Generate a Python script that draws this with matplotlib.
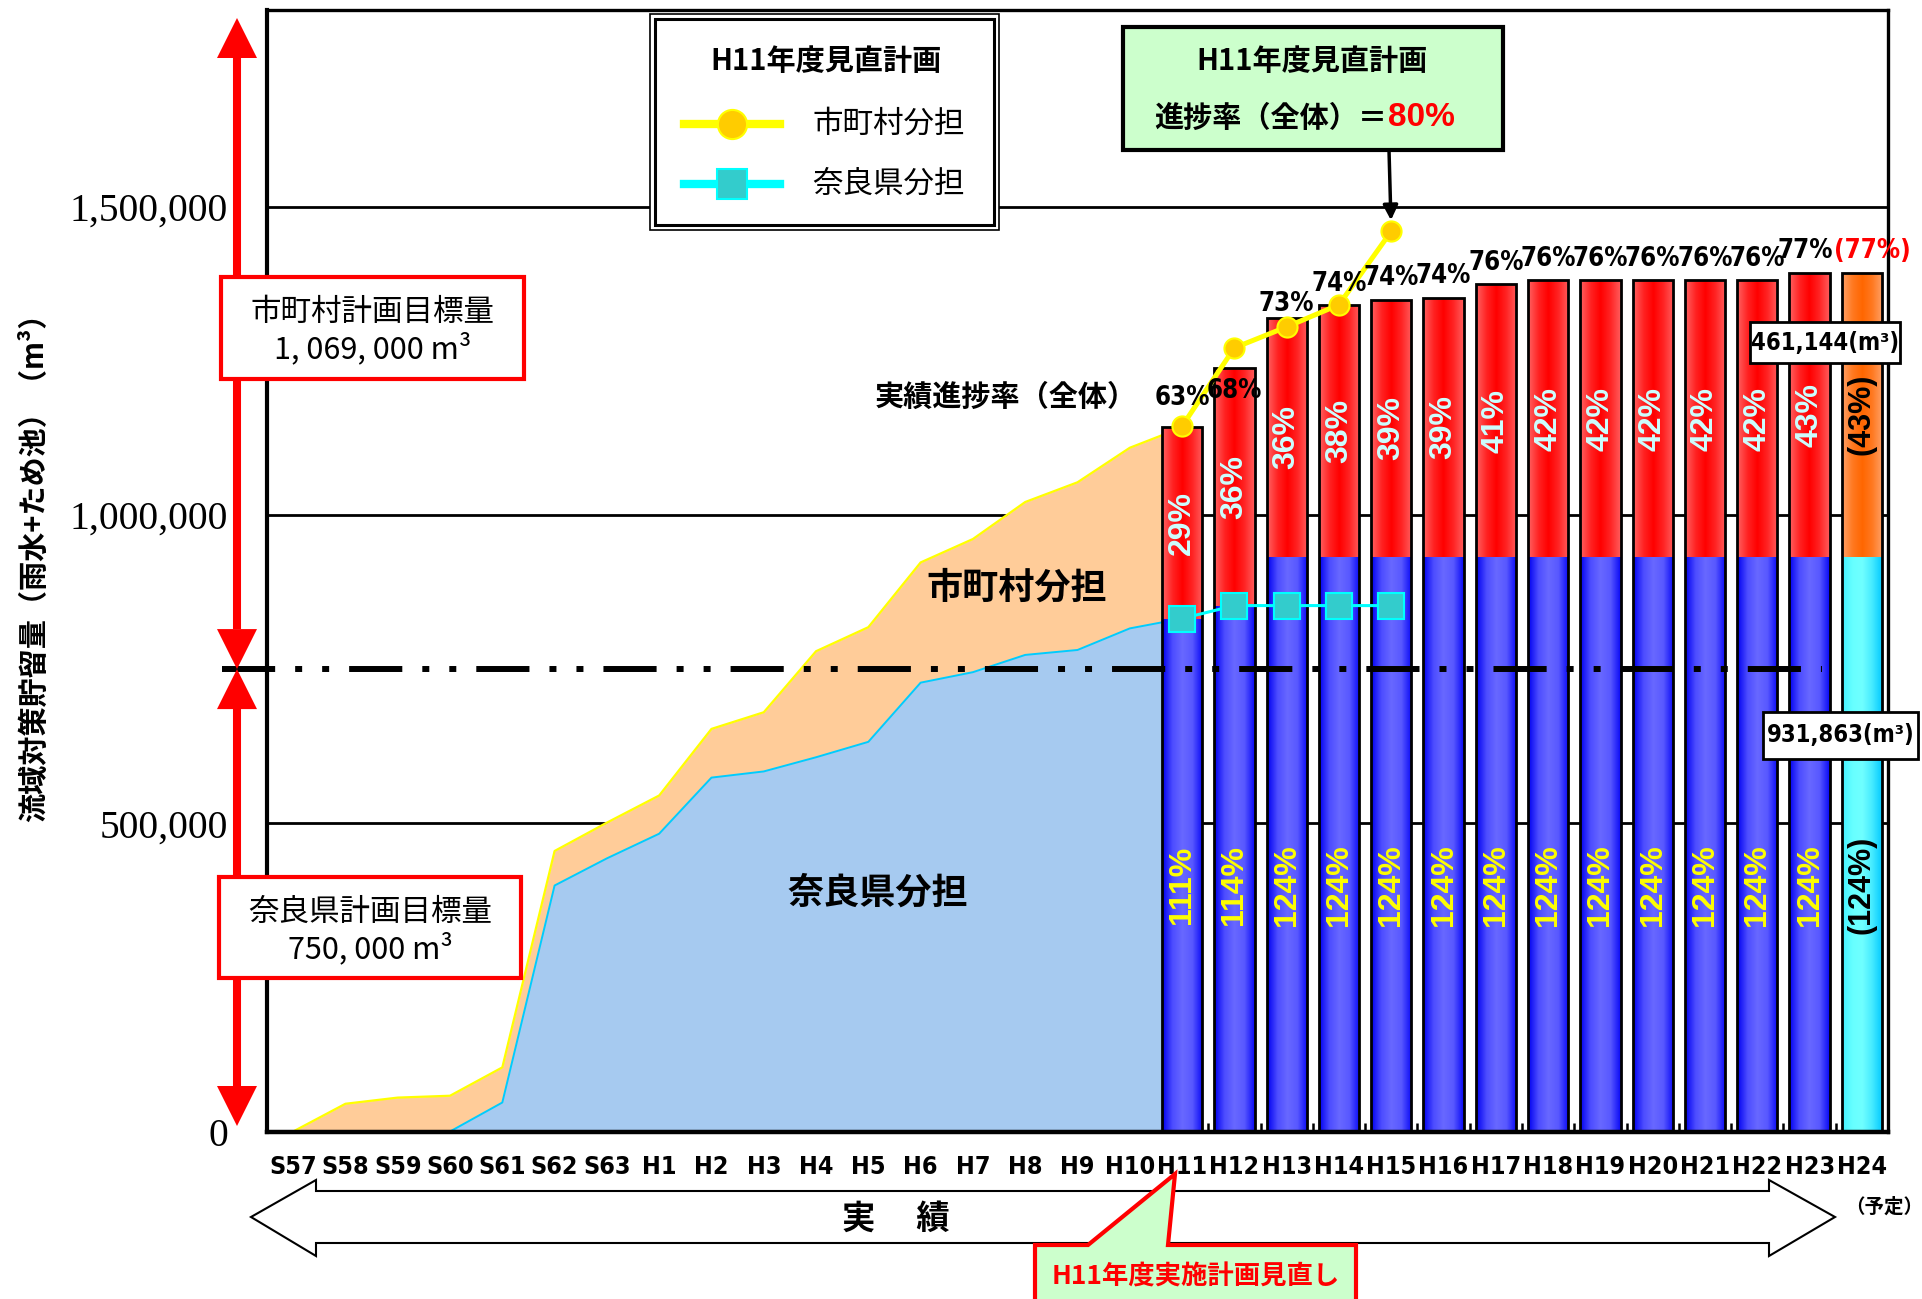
import numpy as np
import matplotlib
matplotlib.use("Agg")
import matplotlib.pyplot as plt
from matplotlib import font_manager
from matplotlib.colors import LinearSegmentedColormap
from matplotlib.patches import Rectangle, Polygon
from matplotlib.lines import Line2D

# --- data (m3) ------------------------------------------------------------
YEARS = ["S57", "S58", "S59", "S60", "S61", "S62", "S63",
         "H1", "H2", "H3", "H4", "H5", "H6", "H7", "H8", "H9", "H10",
         "H11", "H12", "H13", "H14", "H15", "H16", "H17", "H18", "H19",
         "H20", "H21", "H22", "H23", "H24"]

# actual cumulative storage S57..H11 (area chart)
ACT_TOTAL = [0, 45000, 55000, 58000, 104000, 455000, 501000, 545000, 653000,
             680000, 779000, 818000, 923000, 961000, 1021000, 1053000,
             1109000, 1142000]
ACT_PREF = [0, 0, 0, 0, 47000, 399000, 443000, 483000, 574000, 584000,
            607000, 632000, 728000, 745000, 773000, 781000, 816000, 832000]

# stacked bars H11..H24
BAR_YEARS = ["H11", "H12", "H13", "H14", "H15", "H16", "H17", "H18", "H19",
             "H20", "H21", "H22", "H23", "H24"]
BAR_PREF = [832000, 853000, 931863, 931863, 931863, 931863, 931863, 931863,
            931863, 931863, 931863, 931863, 931863, 931863]
BAR_MUNI = [310000, 385000, 388000, 408000, 417000, 420000, 442000, 449000,
            449000, 449000, 449000, 449000, 461000, 461144]

# H11 revised plan
PLAN_YEARS = ["H11", "H12", "H13", "H14", "H15"]
PLAN_TOTAL = [1144000, 1271000, 1305000, 1341000, 1460000]
PLAN_PREF = [832000, 853000, 853000, 853000, 853000]

TARGET_PREF = 750000
TARGET_MUNI = 1069000
YTICKS = [0, 500000, 1000000, 1500000]

# --- fonts ---------------------------------------------------------------
plt.rcParams["font.family"] = ["Noto Sans CJK JP", "DejaVu Sans"]
_names = {f.name for f in font_manager.fontManager.ttflist}
if "Liberation Sans Narrow" in _names:
    NARROW = dict(family=["Liberation Sans Narrow", "Noto Sans CJK JP"], weight="bold")
else:
    NARROW = dict(family=["DejaVu Sans", "Noto Sans CJK JP"], stretch="condensed", weight="bold")
JPB = dict(family=["Noto Sans CJK JP", "DejaVu Sans"], weight="bold")
JP = dict(family=["Noto Sans CJK JP", "DejaVu Sans"])
ARIALB = dict(family=["Liberation Sans", "Noto Sans CJK JP"], weight="bold")

W, H = 1922, 1299


def F(x, y):
    """pixel (from top-left) -> figure fraction"""
    return (x / W, 1 - y / H)


def grad(colors):
    return LinearSegmentedColormap.from_list("g", colors)


CM_BLUE = grad(["#0000F0", "#4C4CFF", "#6868FF", "#5858FF", "#0A0AF5"])
CM_RED = grad(["#FF6262", "#FF2424", "#FF0000", "#FF2424", "#FF5C5C"])
CM_ORANGE = grad(["#FFA066", "#FF7A22", "#FF6600", "#FF7A22", "#FFA066"])
CM_CYAN = grad(["#44F2FF", "#66FFFF", "#70FFFF", "#44EAFF", "#00C8FF"])

fig = plt.figure(figsize=(W / 100, H / 100), dpi=100)
ax = fig.add_axes([267 / W, 1 - 1131.5 / H, (1888 - 267) / W, (1131.5 - 10) / H])
xi = {y: i for i, y in enumerate(YEARS)}

# --- area (actual) -------------------------------------------------------
xa = np.arange(len(ACT_TOTAL))
ax.fill_between(xa, ACT_TOTAL, color="#FFCC99", lw=0, zorder=1.2)
ax.fill_between(xa, ACT_PREF, color="#A6CAF0", lw=0, zorder=1.3)
ax.plot(xa, ACT_TOTAL, color="#FFFF00", lw=1.6, zorder=1.4)
ax.plot(xa, ACT_PREF, color="#00CCFF", lw=1.4, zorder=1.4)

# --- stacked bars ----------------------------------------------------------
xb = np.array([xi[y] for y in BAR_YEARS])
pref = np.array(BAR_PREF)
muni = np.array(BAR_MUNI)
total = pref + muni
bw = 0.77
g = np.linspace(0, 1, 64).reshape(1, -1)

pbars = ax.bar(xb, pref, width=bw, color="none", lw=0, zorder=2)
mbars = ax.bar(xb, muni, bottom=pref, width=bw, color="none", lw=0, zorder=2)
last = len(xb) - 1
for k, (pb, mb) in enumerate(zip(pbars, mbars)):
    for patch, cm in ((pb, CM_CYAN if k == last else CM_BLUE),
                      (mb, CM_ORANGE if k == last else CM_RED)):
        x0, y0 = patch.get_x(), patch.get_y()
        im = ax.imshow(g, cmap=cm, aspect="auto", zorder=2.1,
                       extent=[x0, x0 + patch.get_width(), y0, y0 + patch.get_height()])
        im.set_clip_path(patch)
ax.bar(xb, total, width=bw, fill=False, edgecolor="black", lw=2, zorder=3)

# labels inside bars
for k, x in enumerate(xb):
    mp = int(muni[k] / TARGET_MUNI * 100 + 0.5)
    pp = int(pref[k] / TARGET_PREF * 100 + 0.5)
    if k == last:
        ax.text(x, pref[k] + muni[k] / 2, f"({mp}%)", rotation=90, ha="center",
                va="center", color="black", fontsize=22, zorder=6, **ARIALB)
        ax.text(x, 400000, f"({pp}%)", rotation=90, ha="center", va="center",
                color="black", fontsize=22, zorder=6, **ARIALB)
    else:
        ax.text(x, pref[k] + muni[k] / 2, f"{mp}%", rotation=90, ha="center",
                va="center", color="#CCFFFF", fontsize=23, zorder=6, **ARIALB)
        ax.text(x, 400000, f"{pp}%", rotation=90, ha="center", va="center",
                color="#FFFF00", fontsize=23, zorder=6, **ARIALB)

# overall progress labels above bars
dy = {"H11": 48000, "H12": -37000, "H13": 22000}
dx = {"H23": -0.08, "H24": 0.2}
for k, (x, yr) in enumerate(zip(xb, BAR_YEARS)):
    tp = int(total[k] / (TARGET_PREF + TARGET_MUNI) * 100 + 0.5)
    txt = f"({tp}%)" if k == last else f"{tp}%"
    ax.text(x + dx.get(yr, 0), total[k] + dy.get(yr, 35000), txt,
            ha="center", va="center", color="red" if k == last else "black",
            fontsize=18.5, zorder=6, clip_on=False, **NARROW)

# --- plan lines ------------------------------------------------------------
xp = [xi[y] for y in PLAN_YEARS]
ax.plot(xp, PLAN_TOTAL, color="#FFFF00", lw=3.6, marker="o", ms=14.5,
        mfc="#FFCC00", mec="#FFFF00", mew=1.5, zorder=5)
ax.plot(xp, PLAN_PREF, color="#00FFFF", lw=2.2, marker="s", ms=18.5,
        mfc="#33CCCC", mec="#00FFFF", mew=1.5, zorder=5)

# target line (750,000)
ax.plot([-0.028, 0.959], [TARGET_PREF, TARGET_PREF], transform=ax.get_yaxis_transform(),
        color="black", lw=4.3, dashes=(8.9, 3.35, 1.17, 3.35, 1.17, 3.35),
        clip_on=False, zorder=4)

# --- axes styling ------------------------------------------------------------
ax.set_xlim(-0.5, len(YEARS) - 0.5)
ax.set_ylim(0, TARGET_PREF + TARGET_MUNI)
ax.set_axisbelow(True)
ax.yaxis.grid(True, color="black", lw=2)
for s, lw in (("left", 3), ("bottom", 3.2), ("top", 2.4), ("right", 2.4)):
    ax.spines[s].set_linewidth(lw)
ax.set_yticks(YTICKS, [f"{v:,}" for v in YTICKS])
ax.tick_params(axis="y", length=0, pad=28, labelsize=28.5)
for lab in ax.get_yticklabels():
    lab.set_fontfamily("Liberation Serif")
ax.set_xticks(range(len(YEARS)), YEARS)
ax.set_xticks(np.arange(0.5, len(YEARS) - 1), minor=True)
ax.tick_params(axis="x", which="major", length=0, pad=17)
ax.tick_params(axis="x", which="minor", direction="in", length=6.5, width=1.8)
for lab in ax.get_xticklabels():
    lab.set_fontproperties(font_manager.FontProperties(size=18, **NARROW))

# --- legend (manual, double frame) ------------------------------------------
fig.add_artist(Rectangle(F(650, 230), 349 / W, 216 / H, transform=fig.transFigure,
                         fc="white", ec="black", lw=1.2, zorder=3))
fig.add_artist(Rectangle(F(655, 225), 339 / W, 206 / H, transform=fig.transFigure,
                         fc="white", ec="black", lw=2.2, zorder=3))
fig.text(*F(826, 61), "H11年度見直計画", ha="center", va="center", fontsize=21,
         zorder=4, **JPB)
for yy, lc, mk, mfc, ms, txt in ((124, "#FFFF00", "o", "#FFCC00", 21, "市町村分担"),
                                  (184, "#00FFFF", "s", "#33CCCC", 22, "奈良県分担")):
    fig.add_artist(Line2D([684 / W, 780 / W], [1 - yy / H] * 2, transform=fig.transFigure,
                          color=lc, lw=6, zorder=4))
    fig.add_artist(Line2D([732 / W], [1 - yy / H], transform=fig.transFigure, marker=mk,
                          ms=ms, mfc=mfc, mec=lc, mew=1.5, lw=0, zorder=5))
    fig.text(*F(812, yy), txt, ha="left", va="center", fontsize=22, zorder=4, **JP)

# --- green plan box -----------------------------------------------------------
fig.add_artist(Rectangle(F(1123, 150), 380 / W, 123 / H, transform=fig.transFigure,
                         fc="#CCFFCC", ec="black", lw=3, zorder=3))
fig.text(*F(1312, 61), "H11年度見直計画", ha="center", va="center", fontsize=21,
         zorder=4, **JPB)
fig.text(*F(1387, 118), "進捗率（全体）＝", ha="right", va="center", fontsize=21,
         zorder=4, **JPB)
fig.text(*F(1388, 118), "80%", ha="left", va="center", fontsize=24, color="red",
         zorder=4, **ARIALB)
ax.annotate("", xy=(xi["H15"], PLAN_TOTAL[-1]), xytext=F(1389, 150),
            textcoords="figure fraction",
            arrowprops=dict(arrowstyle="-|>", color="black", lw=2.5,
                            mutation_scale=22, shrinkA=0, shrinkB=8), zorder=6)

# --- texts in plot ------------------------------------------------------------
fig.text(*F(1017, 588), "市町村分担", ha="center", va="center", fontsize=26, **JPB)
fig.text(*F(878, 893), "奈良県分担", ha="center", va="center", fontsize=26, **JPB)
fig.text(*F(1137, 397), "実績進捗率（全体）", ha="right", va="center", fontsize=21, **JPB)

# value boxes at H24
for (x0, y0, x1, y1), txt in (((1750, 322, 1900, 363), "461,144(m³)"),
                              ((1763, 712, 1918, 759), "931,863(m³)")):
    fig.add_artist(Rectangle(F(x0, y1), (x1 - x0) / W, (y1 - y0) / H,
                             transform=fig.transFigure, fc="white", ec="black",
                             lw=2, zorder=3))
    fig.text(*F((x0 + x1) / 2, (y0 + y1) / 2), txt, ha="center", va="center",
             fontsize=17, zorder=4, **NARROW)

# --- red target arrows + boxes on the left -----------------------------------
AX_X = 237
def red_arrow(y_top, y_bot, hl=40, hw=20):
    fig.add_artist(Line2D([AX_X / W] * 2, [1 - (y_top + hl) / H, 1 - (y_bot - hl) / H],
                          transform=fig.transFigure, color="red", lw=5.8,
                          solid_capstyle="butt", zorder=1))
    fig.add_artist(Polygon([F(AX_X, y_top), F(AX_X - hw, y_top + hl), F(AX_X + hw, y_top + hl)],
                           closed=True, transform=fig.transFigure, fc="red", ec="none", zorder=1))
    fig.add_artist(Polygon([F(AX_X, y_bot), F(AX_X - hw, y_bot - hl), F(AX_X + hw, y_bot - hl)],
                           closed=True, transform=fig.transFigure, fc="red", ec="none", zorder=1))

y750 = 1131.5 - TARGET_PREF / (TARGET_PREF + TARGET_MUNI) * (1131.5 - 10)
red_arrow(18, y750)
red_arrow(y750, 1126)

for (x0, y0, x1, y1), l1, l2 in (((221, 277, 524, 379), "市町村計画目標量", "1, 069, 000 m³"),
                                 ((219, 877, 521, 978), "奈良県計画目標量", "750, 000 m³")):
    fig.add_artist(Rectangle(F(x0, y1), (x1 - x0) / W, (y1 - y0) / H,
                             transform=fig.transFigure, fc="white", ec="red", lw=3, zorder=2))
    cx = (x0 + x1) / 2
    fig.text(*F(cx, y0 + 35), l1, ha="center", va="center", fontsize=22, zorder=4, **JP)
    fig.text(*F(cx, y0 + 72), l2, ha="center", va="center", fontsize=22, zorder=4, **JP)

# y-axis title
fig.text(*F(34, 560), "流域対策貯留量（雨水+ため池）（m³）", rotation=90, ha="center",
         va="center", fontsize=21, **JPB)

# --- bottom: 実績 block arrow, (予定), callout --------------------------------
arrow_pts = [(251, 1217), (316, 1180), (316, 1191), (1769, 1191), (1769, 1180),
             (1835, 1217), (1769, 1256), (1769, 1243), (316, 1243), (316, 1256)]
fig.add_artist(Polygon([F(*p) for p in arrow_pts], closed=True, transform=fig.transFigure,
                       fc="white", ec="black", lw=1.5, zorder=1))
fig.text(*F(896, 1219), "実　 績", ha="center", va="center", fontsize=24, zorder=3, **JPB)
fig.text(*F(1884, 1207), "（予定）", ha="center", va="center", fontsize=14, **JPB)

call_pts = [(1035, 1245), (1088, 1245), (1175, 1174), (1168, 1245), (1356, 1245),
            (1356, 1320), (1035, 1320)]
fig.add_artist(Polygon([F(*p) for p in call_pts], closed=True, transform=fig.transFigure,
                       fc="#CCFFCC", ec="red", lw=3, zorder=2))
fig.text(*F(1196, 1277), "H11年度実施計画見直し", ha="center", va="center",
         fontsize=19, color="red", zorder=3, **JPB)

fig.savefig("out.png", dpi=100)
